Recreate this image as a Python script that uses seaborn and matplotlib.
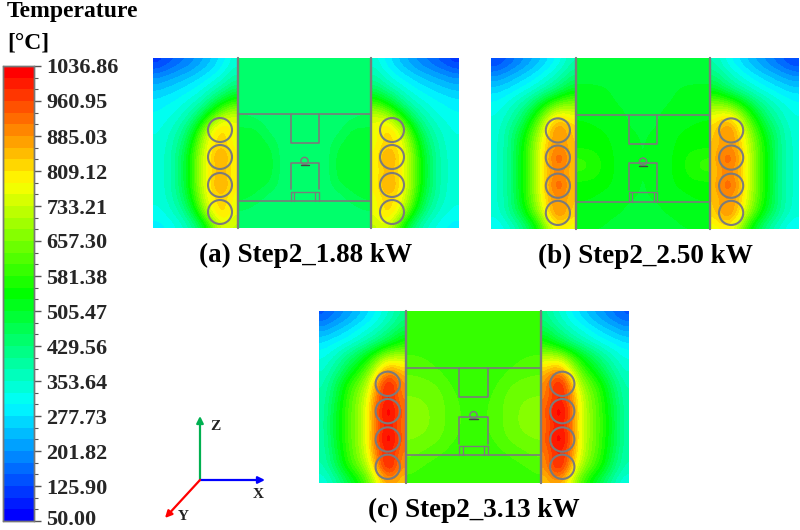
import numpy as np
import matplotlib
matplotlib.use('Agg')
import matplotlib.pyplot as plt
from matplotlib.colors import LinearSegmentedColormap
from matplotlib.patches import Circle
from matplotlib.transforms import ScaledTranslation
import seaborn as sns

# valores de la barra de color
temp_ticks = [1036.86, 960.95, 885.03, 809.12, 733.21, 657.30, 581.38,
              505.47, 429.56, 353.64, 277.73, 201.82, 125.90, 50.00]
captions = ['(a) Step2_1.88 kW', '(b) Step2_2.50 kW', '(c) Step2_3.13 kW']

# zona exterior izquierda (la derecha es su espejo)
side_a = [
    [110, 130, 150, 170, 190, 215, 240, 270, 300, 340],
    [190, 205, 220, 235, 250, 270, 290, 315, 345, 380],
    [250, 260, 270, 285, 300, 320, 345, 375, 410, 450],
    [290, 300, 310, 325, 345, 370, 420, 490, 550, 600],
    [310, 320, 335, 360, 400, 470, 570, 670, 740, 750],
    [325, 340, 365, 405, 480, 600, 740, 820, 830, 770],
    [335, 350, 385, 440, 540, 670, 775, 810, 810, 770],
    [340, 355, 395, 470, 570, 700, 790, 880, 880, 790],
    [340, 355, 395, 470, 570, 700, 785, 830, 830, 780],
    [340, 355, 395, 470, 570, 700, 790, 880, 880, 790],
    [335, 350, 385, 440, 540, 670, 775, 810, 810, 770],
    [320, 335, 360, 400, 480, 600, 740, 820, 830, 770],
    [290, 300, 320, 345, 385, 450, 560, 700, 750, 720],
]
side_b = [
    [120, 140, 165, 190, 215, 240, 270, 300, 335, 375],
    [200, 215, 235, 255, 275, 300, 325, 355, 390, 430],
    [265, 275, 290, 310, 330, 355, 385, 420, 465, 510],
    [310, 325, 350, 380, 420, 480, 550, 610, 650, 660],
    [330, 350, 385, 430, 510, 600, 710, 800, 810, 780],
    [340, 370, 425, 490, 580, 680, 800, 900, 900, 830],
    [345, 375, 440, 525, 615, 720, 825, 870, 870, 830],
    [345, 375, 440, 530, 620, 730, 850, 940, 940, 850],
    [345, 375, 440, 530, 620, 730, 830, 880, 880, 830],
    [345, 375, 440, 530, 620, 730, 850, 940, 940, 850],
    [345, 375, 440, 525, 615, 720, 825, 870, 870, 830],
    [340, 370, 425, 490, 580, 680, 800, 900, 900, 830],
    [300, 320, 355, 400, 460, 550, 670, 770, 790, 760],
]
side_c = [
    [140, 165, 190, 215, 240, 270, 300, 335, 370, 410],
    [215, 235, 255, 275, 300, 325, 350, 385, 420, 465],
    [280, 295, 310, 330, 355, 385, 420, 465, 510, 560],
    [325, 350, 385, 430, 480, 540, 610, 690, 720, 710],
    [350, 385, 435, 500, 560, 630, 740, 860, 880, 840],
    [375, 430, 505, 580, 640, 710, 860, 1000, 1000, 890],
    [385, 450, 530, 610, 670, 760, 900, 980, 975, 900],
    [390, 470, 545, 620, 680, 770, 930, 1035, 1035, 930],
    [390, 470, 545, 620, 680, 770, 910, 990, 985, 910],
    [390, 470, 545, 620, 680, 770, 930, 1035, 1035, 930],
    [385, 450, 530, 610, 670, 760, 900, 980, 975, 900],
    [375, 430, 505, 580, 640, 710, 860, 1000, 1000, 890],
    [330, 365, 420, 480, 545, 620, 730, 850, 870, 830],
]

# zona central, mitad izquierda
center_a = [
    [430, 430, 430, 430, 430],
    [430, 430, 430, 430, 430],
    [430, 430, 430, 430, 430],
    [445, 440, 430, 430, 430],
    [455, 445, 430, 430, 430],
    [490, 490, 440, 430, 430],
    [495, 495, 480, 430, 430],
    [500, 500, 495, 430, 430],
    [500, 500, 495, 430, 430],
    [495, 495, 480, 430, 430],
    [490, 470, 430, 430, 430],
    [450, 430, 430, 430, 430],
    [430, 430, 430, 430, 430],
]
center_b = [
    [505, 505, 505, 505, 505],
    [505, 505, 505, 505, 505],
    [505, 505, 505, 505, 505],
    [520, 515, 505, 505, 505],
    [530, 525, 510, 505, 505],
    [535, 535, 530, 505, 505],
    [540, 540, 535, 515, 505],
    [590, 570, 535, 520, 505],
    [590, 570, 535, 520, 505],
    [540, 540, 535, 515, 505],
    [535, 530, 515, 505, 505],
    [520, 510, 505, 505, 505],
    [505, 505, 505, 505, 505],
]
center_c = [
    [583, 583, 583, 583, 583],
    [583, 583, 583, 583, 583],
    [590, 585, 583, 583, 583],
    [610, 605, 590, 583, 583],
    [625, 620, 605, 585, 583],
    [645, 640, 630, 600, 585],
    [660, 655, 640, 615, 590],
    [670, 665, 640, 620, 595],
    [670, 665, 640, 620, 595],
    [660, 650, 635, 610, 590],
    [640, 625, 610, 590, 583],
    [615, 600, 590, 583, 583],
    [600, 590, 583, 583, 583],
]

# posicion de cada panel en pixeles: izquierda, arriba, ancho, alto, muro izq, muro der
paneles = [(153, 58, 306, 170, 85, 218),
           (491, 58, 308, 171, 85, 219),
           (319, 311, 310, 172, 87, 222)]
W, H = 800, 530

sns.set_theme(style='white')
plt.rcParams['font.family'] = ['Liberation Serif', 'DejaVu Serif']
plt.rcParams['font.weight'] = 'bold'

cmap = LinearSegmentedColormap.from_list(
    'cfd', ['#0000ff', '#00ffff', '#00ff00', '#ffff00', '#ff0000'], N=39)
vmin, vmax = temp_ticks[-1], temp_ticks[0]
gris = '#7b7b7b'

fig = plt.figure(figsize=(W / 100, H / 100), dpi=100)


def px_axes(x, y, w, h, **kw):
    return fig.add_axes([x / W, 1 - (y + h) / H, w / W, h / H], **kw)


def dibujar_campo(ax, campo, cbar_ax=None):
    """Heatmap del campo, suavizado al mostrarlo como en el contorno original"""
    opts = dict(cmap=cmap, vmin=vmin, vmax=vmax, xticklabels=False, yticklabels=False)
    if cbar_ax is None:
        sns.heatmap(campo, ax=ax, cbar=False, **opts)
    else:
        sns.heatmap(campo, ax=ax, cbar_ax=cbar_ax,
                    cbar_kws={'ticks': temp_ticks}, **opts)
    filas, cols = campo.shape
    ax.imshow(campo, cmap=cmap, vmin=vmin, vmax=vmax, aspect='auto', zorder=3,
              interpolation='bicubic', extent=(0, cols, filas, 0))
    # las filas se centran en los tubos y sobresalen un poco del panel
    ax.set_xlim(0, cols)
    ax.set_ylim(12.66, 0.21)
    ax.axis('off')


cbar_ax = px_axes(3, 66, 31, 455)
grupos = [(side_a, center_a), (side_b, center_b), (side_c, center_c)]
for i, ((px, py, pw, ph, m1, m2), (side, center)) in enumerate(zip(paneles, grupos)):
    side = np.array(side, dtype=float)
    center = np.array(center, dtype=float)
    ax_l = px_axes(px, py, m1, ph)
    ax_c = px_axes(px + m1, py, m2 - m1, ph)
    ax_r = px_axes(px + m2, py, pw - m2, ph)
    dibujar_campo(ax_l, side, cbar_ax if i == 0 else None)
    dibujar_campo(ax_c, np.hstack([center, center[:, ::-1]]))
    dibujar_campo(ax_r, side[:, ::-1])

# barra de color
cbar_ax.set_ylim(vmin, vmax)
cbar_ax.yaxis.set_ticks_position('right')
cbar_ax.set_yticks(temp_ticks)
cbar_ax.set_yticklabels([f'{t:.2f}' for t in temp_ticks])
menores = np.linspace(vmin, vmax, 40)
cbar_ax.set_yticks(menores, minor=True)
cbar_ax.tick_params(axis='y', which='major', length=5, width=1, color='#555555',
                    labelsize=16, pad=4, right=True)
cbar_ax.tick_params(axis='y', which='minor', length=3, width=0.8, color='#555555', right=True)
for spine in cbar_ax.spines.values():
    spine.set_visible(True)
    spine.set_color('#777777')
    spine.set_linewidth(1)
# la ultima etiqueta queda justo en el borde inferior, se sube un poco
ultima = cbar_ax.get_yticklabels()[-1]
ultima.set_transform(ultima.get_transform() + ScaledTranslation(0, 2.5 / 72, fig.dpi_scale_trans))

# capa de pixeles para geometria y textos
over = fig.add_axes([0, 0, 1, 1], zorder=10)
over.set_xlim(0, W)
over.set_ylim(H, 0)
over.patch.set_alpha(0)
over.axis('off')

tubos_y = [72, 99, 127, 154]
for (px, py, pw, ph, m1, m2), cap in zip(paneles, captions):
    sx, sy = pw / 306, ph / 170
    X = lambda v: px + v * sx
    Y = lambda v: py + v * sy
    lw = 1.4
    cx = (m1 + m2) / 2 / sx
    for m in (m1 / sx, m2 / sx):
        over.plot([X(m), X(m)], [Y(0), Y(170)], color=gris, lw=lw + 0.3)
    for yy in (56.3, 142.7):
        over.plot([X(m1 / sx), X(m2 / sx)], [Y(yy), Y(yy)], color=gris, lw=lw - 0.2)
    # caja superior, caja inferior y soporte
    over.plot([X(cx - 14), X(cx - 14), X(cx + 14), X(cx + 14)],
              [Y(56.3), Y(85.3), Y(85.3), Y(56.3)], color=gris, lw=lw - 0.2)
    over.plot([X(cx - 14), X(cx - 14), X(cx + 14), X(cx + 14)],
              [Y(131), Y(104.7), Y(104.7), Y(131)], color=gris, lw=lw - 0.2)
    over.plot([X(cx - 14), X(cx - 14), X(cx + 14), X(cx + 14)],
              [Y(142.7), Y(133.7), Y(133.7), Y(142.7)], color=gris, lw=lw - 0.4)
    for d in (-10.5, 10.5):
        over.plot([X(cx + d), X(cx + d)], [Y(133.7), Y(142.7)], color=gris, lw=0.9)
    over.add_patch(Circle((X(cx), Y(103)), 3.6, fill=False, ec=gris, lw=1.1))
    over.plot([X(cx - 4), X(cx + 4)], [Y(107), Y(107)], color='#444444', lw=1)
    # tubos
    for tx in (m1 / sx - 18, m2 / sx + 21):
        for ty in tubos_y:
            over.add_patch(Circle((X(tx), Y(ty)), 12 * sx, fill=False, ec=gris, lw=1.5))
    over.text(px + pw / 2, py + ph + 27, cap, ha='center', va='center',
              fontsize=19.5, fontweight='bold', color='black')

over.text(7, 11, 'Temperature', ha='left', va='center', fontsize=17, fontweight='bold', color='black')
over.text(7, 43, '[°C]', ha='left', va='center', fontsize=17, fontweight='bold', color='black')

# triedro
origen = (200, 480)
for fin, col in (((200, 416), '#00b050'), ((265, 480), '#0000ff'), ((165, 518), '#ff0000')):
    over.annotate('', xy=fin, xytext=origen,
                  arrowprops=dict(arrowstyle='-|>', color=col, lw=1.6, mutation_scale=10,
                                  shrinkA=0, shrinkB=0))
for pos, etiqueta in (((215, 427), 'Z'), ((258, 494), 'X'), ((183, 516), 'Y')):
    over.text(pos[0], pos[1], etiqueta, ha='center', va='center', fontsize=11,
              fontweight='bold', color='#222222')

fig.savefig('out.png', dpi=100)
